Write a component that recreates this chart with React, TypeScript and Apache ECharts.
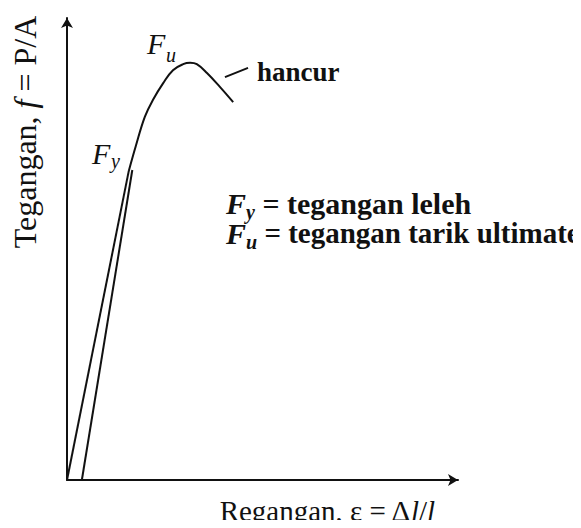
import { useEffect, useRef } from "react";
import * as echarts from "echarts";

const SERIF = '"Liberation Serif", "Times New Roman", serif';
const INK = "#111111";

// Strain (x) and stress (y) in normalised units, 0–100 on both axes
const elasticStrain = [0, 15.8];
const elasticStress = [0, 66.9];
const offsetStrain = [3.8, 16.7];
const offsetStress = [0, 67.1];
const curveStrain = [15.8, 17.6, 19.9, 22.0, 24.6, 27.1, 29.7, 31.5, 33.2, 35.8, 39.1, 42.5];
const curveStress = [66.9, 72.3, 78.6, 82.3, 85.9, 88.7, 90.0, 90.3, 90.0, 88.1, 85.1, 81.8];
const leaderStrain = [40.4, 46.3];
const leaderStress = [87.2, 89.2];

const zip = (xs: number[], ys: number[]) => xs.map((x, i) => [x, ys[i]]);

const lineSeries = (data: number[][], smooth: number | boolean = false) => ({
  type: "line",
  data,
  smooth,
  showSymbol: false,
  silent: true,
  lineStyle: { color: INK, width: 2 },
});

const txt = (
  x: number,
  y: number,
  text: string,
  fontSize: number,
  extra: Record<string, unknown> = {}
) => ({
  type: "text",
  x,
  y,
  silent: true,
  style: {
    text,
    fontFamily: SERIF,
    fontSize,
    fill: INK,
    align: "left",
    verticalAlign: "middle",
    ...extra,
  },
});

const axisCommon = {
  type: "value",
  min: 0,
  max: 100,
  axisLine: {
    show: true,
    symbol: ["none", "arrow"],
    symbolSize: [9, 10],
    lineStyle: { color: INK, width: 2 },
  },
  axisTick: { show: false },
  axisLabel: { show: false },
  splitLine: { show: false },
};

export default function App() {
  const ref = useRef<HTMLDivElement>(null);

  useEffect(() => {
    if (!ref.current) return;
    const chart = echarts.init(ref.current, undefined, { renderer: "svg" });
    const rich = {
      n: { fontFamily: SERIF, fontSize: 32, fill: INK },
      i: { fontFamily: SERIF, fontSize: 32, fontStyle: "italic", fill: INK },
    };
    const richX = {
      n: { fontFamily: SERIF, fontSize: 29, fill: INK },
      i: { fontFamily: SERIF, fontSize: 29, fontStyle: "italic", fill: INK },
    };
    // definitions block: italic F with a lowered subscript, then the meaning
    const richDef = {
      F: { fontFamily: SERIF, fontSize: 30, fontStyle: "italic", fontWeight: "bold", lineHeight: 30, fill: INK },
      s: {
        fontFamily: SERIF,
        fontSize: 20,
        fontStyle: "italic",
        fontWeight: "bold",
        lineHeight: 12,
        padding: [18, 0, 0, 0],
        fill: INK,
      },
      n: { fontFamily: SERIF, fontSize: 30, fontWeight: "bold", lineHeight: 30, fill: INK },
      m: { fontFamily: SERIF, fontSize: 29, fontWeight: "bold", lineHeight: 30, fill: INK },
    };
    const it = { fontStyle: "italic" };
    chart.setOption({
      animation: false,
      backgroundColor: "#ffffff",
      grid: { left: 67, right: 123, top: 18, bottom: 48 },
      xAxis: { ...axisCommon },
      yAxis: { ...axisCommon },
      series: [
        lineSeries(zip(elasticStrain, elasticStress)),
        lineSeries(zip(offsetStrain, offsetStress)),
        lineSeries(zip(curveStrain, curveStress), 0.4),
        lineSeries(zip(leaderStrain, leaderStress)),
      ],
      graphic: [
        {
          type: "text",
          x: 25,
          y: 132,
          rotation: Math.PI / 2,
          silent: true,
          style: {
            text: "{n|Tegangan, }{i|f}{n| = P/A}",
            rich,
            align: "center",
            verticalAlign: "middle",
          },
        },
        {
          type: "text",
          x: 327,
          y: 511,
          silent: true,
          style: {
            text: "{n|Regangan, ε = Δ}{i|l}{n|/}{i|l}",
            rich: richX,
            align: "center",
            verticalAlign: "middle",
          },
        },
        txt(257, 72, "hancur", 27, { fontWeight: "bold" }),
        // peak and yield markers
        txt(147, 43, "F", 30, it),
        txt(166, 55, "u", 20, it),
        txt(92, 153, "F", 30, it),
        txt(111, 161, "y", 20, it),
        {
          type: "text",
          x: 226,
          y: 218,
          silent: true,
          style: {
            text:
              "{F|F}{s|y}{n| = tegangan leleh}\n{F|F}{s|u}{m| = tegangan tarik ultimate}",
            rich: richDef,
            align: "left",
            verticalAlign: "middle",
          },
        },
      ],
    });
    return () => chart.dispose();
  }, []);

  return <div ref={ref} style={{ width: 581, height: 528, margin: -8 }} />;
}
